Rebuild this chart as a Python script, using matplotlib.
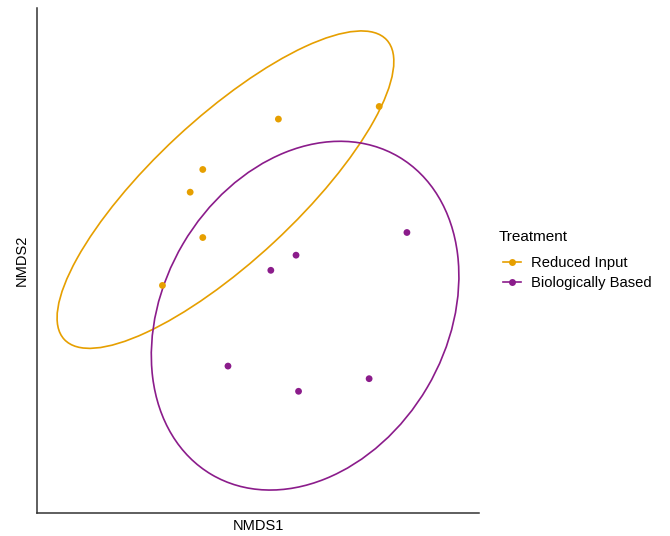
import numpy as np
import matplotlib.pyplot as plt
from matplotlib.lines import Line2D
from matplotlib.patches import Ellipse

plt.rcParams['font.family'] = ['Liberation Sans', 'DejaVu Sans']

# NMDS site scores per treatment
ri_x = [0.07, 0.47, -0.23, -0.28, -0.23, -0.39]
ri_y = [0.52, 0.57, 0.32, 0.23, 0.05, -0.14]
bb_x = [0.58, 0.14, 0.04, -0.13, 0.15, 0.43]
bb_y = [0.07, -0.02, -0.08, -0.46, -0.56, -0.51]

# 95% ellipses: centre, full axis lengths and rotation (deg)
ell_cx = [-0.14, 0.176]
ell_cy = [0.24, -0.26]
ell_w = [1.746, 1.463]
ell_h = [0.568, 1.124]
ell_ang = [42.9, 59.5]

treatments = ['Reduced Input', 'Biologically Based']
colors = ['#E69F00', '#8B1C8B']

fig = plt.figure(figsize=(6.7, 5.36), dpi=100)
ax = fig.add_axes([0.0552, 0.0429, 0.6597, 0.9422])

groups = [(ri_x, ri_y), (bb_x, bb_y)]
xs_all, ys_all = [], []
for i, ((xs, ys), c) in enumerate(zip(groups, colors)):
    e = Ellipse((ell_cx[i], ell_cy[i]), ell_w[i], ell_h[i], angle=ell_ang[i],
                fill=False, edgecolor=c, lw=1.2)
    ax.add_patch(e)
    ax.scatter(xs, ys, s=24, color=c, edgecolor='none', zorder=3)
    # extent of the rotated ellipse
    t = np.deg2rad(ell_ang[i])
    a, b = ell_w[i] / 2, ell_h[i] / 2
    dx = np.sqrt((a * np.cos(t)) ** 2 + (b * np.sin(t)) ** 2)
    dy = np.sqrt((a * np.sin(t)) ** 2 + (b * np.cos(t)) ** 2)
    xs_all += xs + [ell_cx[i] - dx, ell_cx[i] + dx]
    ys_all += ys + [ell_cy[i] - dy, ell_cy[i] + dy]

xmin, xmax = min(xs_all), max(xs_all)
ymin, ymax = min(ys_all), max(ys_all)
ax.set_xlim(xmin - 0.05 * (xmax - xmin), xmax + 0.05 * (xmax - xmin))
ax.set_ylim(ymin - 0.05 * (ymax - ymin), ymax + 0.05 * (ymax - ymin))

ax.set_xticks([])
ax.set_yticks([])
for s in ['top', 'right']:
    ax.spines[s].set_visible(False)
for s in ['left', 'bottom']:
    ax.spines[s].set_color('#333333')
    ax.spines[s].set_linewidth(1.1)

ax.set_xlabel('NMDS1', fontsize=10.5, labelpad=4)
ax.set_ylabel('NMDS2', fontsize=10.5, labelpad=6)

fig.text(499 / 670, 1 - 237 / 536, 'Treatment', fontsize=11, ha='left', va='center')
handles = [Line2D([], [], color=c, marker='o', markersize=5, lw=1.2,
                  markeredgecolor='none') for c in colors]
fig.legend(handles, treatments, loc='upper left',
           bbox_to_anchor=(0.735, 0.542), frameon=False, fontsize=10.6,
           handlelength=1.25, handletextpad=0.7, labelspacing=0.45,
           borderpad=0.2)

fig.savefig('out.png', dpi=100)
